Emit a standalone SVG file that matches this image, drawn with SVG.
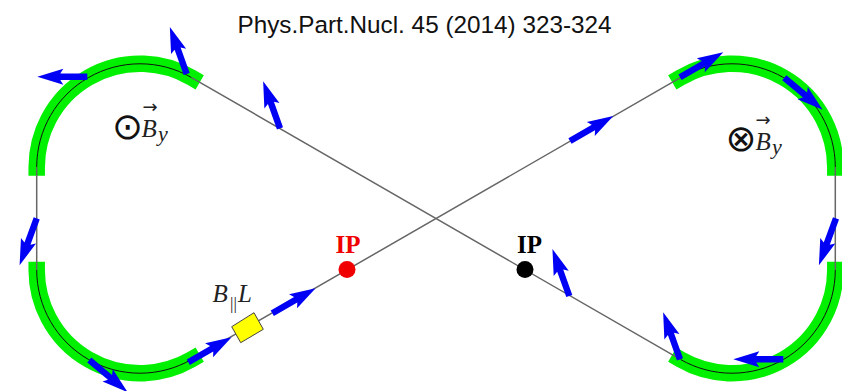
<svg xmlns="http://www.w3.org/2000/svg" xmlns:xlink="http://www.w3.org/1999/xlink" width="842" height="391" viewBox="0 0 842 391">
<style>
.mag{fill:none;stroke:#00f000;stroke-width:16.5}
.arc{fill:none;stroke:#111;stroke-width:1}
.st{fill:none;stroke:#666;stroke-width:1.5}
.v{fill:#0000f5}
.i{font-family:"Liberation Serif",serif;font-style:italic;font-size:25px;fill:#222}
.y{font-family:"Liberation Serif",serif;font-style:italic;font-size:22px;fill:#222}
.par{font-family:"Liberation Serif",serif;font-size:17px;fill:#222}
.vec{font-family:"DejaVu Sans",sans-serif;font-size:18px;text-anchor:middle;fill:#222}
.ip{font-family:"Liberation Serif",serif;font-weight:bold;font-size:25px;text-anchor:middle}
.sym{font-family:"DejaVu Sans",sans-serif;font-size:37px;text-anchor:middle;fill:#111}
</style>
<defs>
<polygon id="a" class="v" points="0,-3.200 27,-3.200 24,-8 50,0 24,8 27,3.200 0,3.200"/>
</defs>
<rect width="842" height="391" fill="#fff"/>
<text x="424.500" y="33" font-family="Liberation Sans, Arial, sans-serif" font-size="24.300" text-anchor="middle" fill="#111">Phys.Part.Nucl. 45 (2014) 323-324</text>
<g id="magnets">
<path class="mag" d="M36.700 175.700V167A103.300 103.300 0 0 1 191.600 77.600L199.700 82.300"/>
<path class="mag" d="M36.700 261.700V270A103.300 103.300 0 0 0 191.600 359.400L199.700 354.700"/>
<path class="mag" d="M835.300 175.700V167A103.300 103.300 0 0 0 680.400 77.600L672.300 82.300"/>
<path class="mag" d="M835.300 261.700V270A103.300 103.300 0 0 1 680.400 359.400L672.300 354.700"/>
</g>
<g id="connectors">
<path class="arc" d="M36.700 167A103.300 103.300 0 0 1 191.600 77.600"/>
<path class="arc" d="M36.700 270A103.300 103.300 0 0 0 191.600 359.400"/>
<path class="arc" d="M835.300 167A103.300 103.300 0 0 0 680.400 77.600"/>
<path class="arc" d="M835.300 270A103.300 103.300 0 0 1 680.400 359.400"/>
<path class="st" d="M36.700 167V270M835.300 167V270M191.600 77.600L680.400 359.400M191.600 359.400L680.400 77.600"/>
</g>
<g id="node-ip-red">
<circle cx="347" cy="269.500" r="8.500" fill="#f00000"/>
<text class="ip" x="348" y="253" fill="#f00000">IP</text>
</g>
<g id="node-ip-black">
<circle cx="525" cy="269.500" r="8.500" fill="#000"/>
<text class="ip" x="529.500" y="253" fill="#000">IP</text>
</g>
<g id="node-bl">
<polygon points="254,312.700 263.300,329.300 240.700,342.700 231.700,326.700" fill="#ffff00" stroke="#444" stroke-width="1"/>
<text class="i" x="212.500" y="302">B</text>
<text class="par" x="230" y="309">||</text>
<text class="i" x="238" y="302">L</text>
</g>
<g id="node-by-left">
<text class="sym" x="127.500" y="138.500">⊙</text>
<text class="i" x="141.500" y="137">B</text>
<text class="y" x="158" y="141">y</text>
<text class="vec" x="150" y="113">→</text>
</g>
<g id="node-by-right">
<text class="sym" x="741" y="150.500">⊗</text>
<text class="i" x="755.500" y="150">B</text>
<text class="y" x="772" y="154">y</text>
<text class="vec" x="763" y="126">→</text>
</g>
<g id="spin-arrows">
<use xlink:href="#a" href="#a" transform="translate(87.300 76.700) rotate(180)"/>
<use xlink:href="#a" href="#a" transform="translate(186.700 74) rotate(-109.700)"/>
<use xlink:href="#a" href="#a" transform="translate(280 128.300) rotate(-109.700)"/>
<use xlink:href="#a" href="#a" transform="translate(36.700 218.300) rotate(110)"/>
<use xlink:href="#a" href="#a" transform="translate(89.300 360) rotate(40)"/>
<use xlink:href="#a" href="#a" transform="translate(188.300 362.300) rotate(-30)"/>
<use xlink:href="#a" href="#a" transform="translate(272.300 313.300) rotate(-30)"/>
<use xlink:href="#a" href="#a" transform="translate(570 141) rotate(-30)"/>
<use xlink:href="#a" href="#a" transform="translate(680 77.300) rotate(-30)"/>
<use xlink:href="#a" href="#a" transform="translate(784.300 77.700) rotate(40)"/>
<use xlink:href="#a" href="#a" transform="translate(836 218.300) rotate(110)"/>
<use xlink:href="#a" href="#a" transform="translate(569.300 296) rotate(-109.700)"/>
<use xlink:href="#a" href="#a" transform="translate(680 359.300) rotate(-109.700)"/>
<use xlink:href="#a" href="#a" transform="translate(783.300 359.300) rotate(180)"/>
</g>
</svg>
